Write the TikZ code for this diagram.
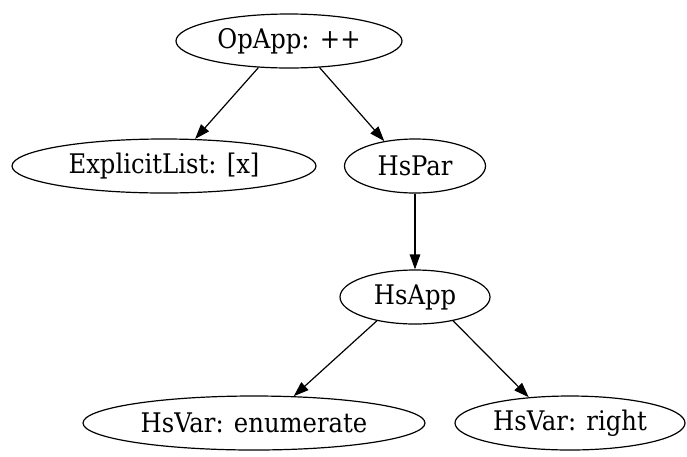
\documentclass[tikz,border=0pt]{standalone}
\usepackage{fontspec}
\newfontfamily\gvfont{DejaVu Serif Condensed}
\usetikzlibrary{shapes.geometric,arrows.meta}
\begin{document}
\begin{tikzpicture}[x=1pt,y=-1pt,
  gv/.style={draw,ellipse,line width=1.2pt,inner sep=0pt,minimum height=54pt,font=\gvfont\fontsize{27}{32}\selectfont},
  edge/.style={line width=1.2pt,-{Triangle[length=15pt,width=10.5pt]}}]
\useasboundingbox (0,0) rectangle (687,456);
\node[gv,minimum width=226pt] (op) at (289,41) {OpApp: ++};
\node[gv,minimum width=304pt] (el) at (164,166) {ExplicitList: [x]};
\node[gv,minimum width=141pt] (par) at (415,166) {HsPar};
\node[gv,minimum width=150pt] (app) at (415,297) {HsApp};
\node[gv,minimum width=342pt] (en) at (254,423) {HsVar: enumerate};
\node[gv,minimum width=230pt] (ri) at (570,423) {HsVar: right};
\draw[edge] (op.221) -- (el.41);
\draw[edge] (op.319) -- (par.141);
\draw[edge] (par.south) -- (app.north);
\draw[edge] (app.212) -- (en.34);
\draw[edge] (app.328) -- (ri.148);
\end{tikzpicture}
\end{document}
